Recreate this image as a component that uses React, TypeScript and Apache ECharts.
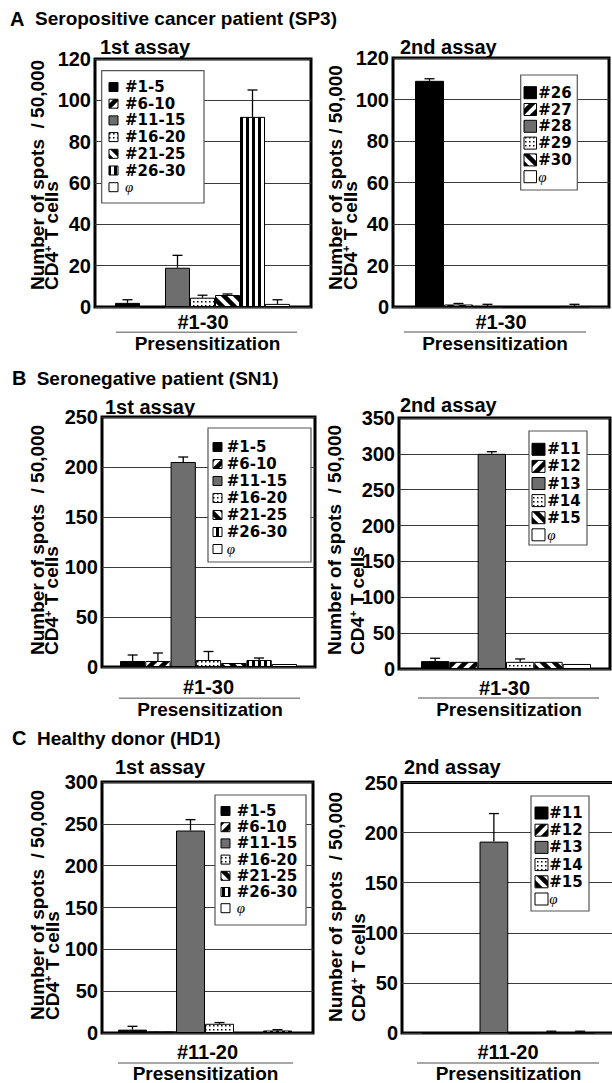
import React, { useEffect, useRef } from 'react';
import * as echarts from 'echarts';

const FONT = '"Liberation Sans", Arial, Helvetica, sans-serif';
const LEG_FONT = '"DejaVu Sans", "Liberation Sans", sans-serif';

// ---------- Panel A: Seropositive cancer patient (SP3) ----------
const a1Names = ['#1-5', '#6-10', '#11-15', '#16-20', '#21-25', '#26-30', 'φ'];
const a1Values = [2, 0, 19, 4.5, 5.8, 92, 1.5];
const a1Errors = [1.5, 0, 6, 1.2, 0.5, 13, 2];
const a1Max = 120;
const a1Step = 20;
const a1Cat = '#1-30';

const a2Names = ['#26', '#27', '#28', '#29', '#30', 'φ'];
const a2Values = [109, 1.2, 0.3, 0, 0, 0.3];
const a2Errors = [1, 0.5, 1, 0, 0, 1];
const a2Max = 120;
const a2Step = 20;
const a2Cat = '#1-30';

// ---------- Panel B: Seronegative patient (SN1) ----------
const b1Names = ['#1-5', '#6-10', '#11-15', '#16-20', '#21-25', '#26-30', 'φ'];
const b1Values = [6, 6, 205, 7, 4, 7, 3];
const b1Errors = [6, 8, 5, 8.5, 0, 2, 0];
const b1Max = 250;
const b1Step = 50;
const b1Cat = '#1-30';

const b2Names = ['#11', '#12', '#13', '#14', '#15', 'φ'];
const b2Values = [11, 10, 300, 10, 10, 7];
const b2Errors = [4, 0, 3, 4, 0, 0];
const b2Max = 350;
const b2Step = 50;
const b2Cat = '#1-30';

// ---------- Panel C: Healthy donor (HD1) ----------
const c1Names = ['#1-5', '#6-10', '#11-15', '#16-20', '#21-25', '#26-30', 'φ'];
const c1Values = [4, 2, 242, 11, 1, 3, null];
const c1Errors = [4, 0, 13, 1.5, 0, 1, 0];
const c1Max = 300;
const c1Step = 50;
const c1Cat = '#11-20';

const c2Names = ['#11', '#12', '#13', '#14', '#15', 'φ'];
const c2Values = [0, 0, 191, 0, 0.3, 0.3];
const c2Errors = [0, 0, 28, 0, 1.5, 1.5];
const c2Max = 250;
const c2Step = 50;
const c2Cat = '#11-20';

const sectionTitles = [
  { letter: 'A', text: 'Seropositive cancer patient (SP3)', y: 18.5, lx: 10, tx: 35 },
  { letter: 'B', text: 'Seronegative patient (SN1)', y: 378.3, lx: 12, tx: 36.7 },
  { letter: 'C', text: 'Healthy donor (HD1)', y: 738.3, lx: 12, tx: 37 },
];

const Y_TITLE_1 = 'Number of spots  / 50,000';
const Y_TITLE_1_SINGLE = 'Number of spots / 50,000';
const X_TITLE = 'Presensitization';

// layout (positions only)
const LAYOUT: any[] = [
  {
    names: a1Names, values: a1Values, errors: a1Errors, max: a1Max, step: a1Step, cat: a1Cat,
    frame: [95, 59, 311, 307], bars: [115, 290], catMargin: 5,
    legendBox: [101.7, 70.7, 204, 203], rowH: 16.7, firstRow: 87, icon: [9, 9], iconLeft: 109, textLeft: 125,
    yTitle: { x1: 37, x2: 51.5, y: 290, text: Y_TITLE_1 },
    assay: { text: '1st assay', x: 100, y: 46.7 }, underline: [116, 297, 332.3], pres: [207.5, 343.8],
  },
  {
    names: a2Names, values: a2Values, errors: a2Errors, max: a2Max, step: a2Step, cat: a2Cat,
    frame: [393, 58, 609, 307], bars: [415, 589], catMargin: 5,
    legendBox: [520.7, 75, 577.3, 190], rowH: 16.8, firstRow: 92.7, icon: [12.5, 12], iconLeft: 524, textLeft: 538.3,
    yTitle: { x1: 335, x2: 350, y: 290, text: Y_TITLE_1_SINGLE },
    assay: { text: '2nd assay', x: 400, y: 46.7 }, underline: [404, 586, 332], pres: [495, 343.8],
  },
  {
    names: b1Names, values: b1Values, errors: b1Errors, max: b1Max, step: b1Step, cat: b1Cat,
    frame: [102, 417, 315, 667], bars: [120, 297], catMargin: 9.5,
    legendBox: [208, 428, 311, 562], rowH: 17, firstRow: 447, icon: [9, 9], iconLeft: 213, textLeft: 226.7,
    yTitle: { x1: 37, x2: 51.5, y: 655, text: Y_TITLE_1 },
    assay: { text: '1st assay', x: 105, y: 406.7 }, underline: [119, 300, 698.3], pres: [210, 709.3],
  },
  {
    names: b2Names, values: b2Values, errors: b2Errors, max: b2Max, step: b2Step, cat: b2Cat,
    frame: [399, 418, 610, 669], bars: [421, 591], catMargin: 8.5,
    legendBox: [529, 431, 587, 545], rowH: 17.1, firstRow: 449.3, icon: [13, 12], iconLeft: 532, textLeft: 547.3,
    yTitle: { x1: 334.6, x2: 357, y: 655, text: Y_TITLE_1 },
    assay: { text: '2nd assay', x: 400, y: 405 }, underline: [418, 599, 698], pres: [509, 709.3],
  },
  {
    names: c1Names, values: c1Values, errors: c1Errors, max: c1Max, step: c1Step, cat: c1Cat,
    frame: [102, 782, 313, 1033], bars: [118, 321], catMargin: 8.5,
    legendBox: [215, 795, 306, 925], rowH: 16.2, firstRow: 811, icon: [9, 9], iconLeft: 221, textLeft: 236.7,
    yTitle: { x1: 37, x2: 52, y: 1020, text: Y_TITLE_1 },
    assay: { text: '1st assay', x: 115, y: 766.7 }, underline: [118, 293, 1063], pres: [205.5, 1073],
  },
  {
    names: c2Names, values: c2Values, errors: c2Errors, max: c2Max, step: c2Step, cat: c2Cat,
    frame: [402, 782.5, 614, 1033], bars: [422, 594.5], catMargin: 8.5,
    legendBox: [531, 796, 589, 911], rowH: 17.2, firstRow: 813, icon: [13, 12], iconLeft: 535, textLeft: 549.3,
    yTitle: { x1: 335, x2: 358, y: 1022, text: Y_TITLE_1 },
    assay: { text: '2nd assay', x: 404, y: 766.7 }, underline: [417, 599, 1063], pres: [508.5, 1073],
  },
];

function makePatterns() {
  const mk = (w: number, h: number, draw: (ctx: CanvasRenderingContext2D) => void) => {
    const c = document.createElement('canvas');
    c.width = w;
    c.height = h;
    const ctx = c.getContext('2d') as CanvasRenderingContext2D;
    ctx.fillStyle = '#fff';
    ctx.fillRect(0, 0, w, h);
    ctx.fillStyle = '#000';
    ctx.strokeStyle = '#000';
    draw(ctx);
    return { image: c.toDataURL(), repeat: 'repeat', imageWidth: w, imageHeight: h };
  };
  const diagUp = mk(12, 12, (ctx) => {
    ctx.lineWidth = 4.5;
    for (const o of [-12, 0, 12]) {
      ctx.beginPath();
      ctx.moveTo(o - 2, 14);
      ctx.lineTo(o + 14, -2);
      ctx.stroke();
    }
  });
  const diagDown = mk(12, 12, (ctx) => {
    ctx.lineWidth = 4.5;
    for (const o of [-12, 0, 12]) {
      ctx.beginPath();
      ctx.moveTo(o - 2, -2);
      ctx.lineTo(o + 14, 14);
      ctx.stroke();
    }
  });
  const vstripe = mk(6, 6, (ctx) => ctx.fillRect(0, 0, 3, 6));
  const dots = mk(4, 4, (ctx) => {
    ctx.fillRect(1, 1, 1.5, 1.5);
  });
  const seven = ['#000', diagUp, '#6e6e6e', dots, diagDown, vstripe, '#fff'];
  const six = ['#000', diagUp, '#6e6e6e', dots, diagDown, '#fff'];
  return { seven, six };
}

function buildOption() {
  const pats = makePatterns();
  const grid: any[] = [];
  const xAxis: any[] = [];
  const yAxis: any[] = [];
  const series: any[] = [];
  const graphic: any[] = [];
  const LEG_FS = 15;

  LAYOUT.forEach((p, pi) => {
    const [fx0, fy0, fx1, fy1] = p.frame;
    const n = p.names.length;
    const fillSet = n === 7 ? pats.seven : pats.six;
    const fIdx = pi * 2;
    const bIdx = pi * 2 + 1;

    grid.push({
      left: fx0, top: fy0, width: fx1 - fx0, height: fy1 - fy0,
      show: true, borderColor: '#000', borderWidth: 3, backgroundColor: 'transparent',
    });
    grid.push({
      left: p.bars[0], top: fy0, width: p.bars[1] - p.bars[0], height: fy1 - fy0,
      show: false,
    });

    xAxis.push({
      gridIndex: fIdx, type: 'category', data: [p.cat],
      axisLine: { show: false }, axisTick: { show: false },
      axisLabel: { interval: 0, margin: p.catMargin, color: '#000', fontSize: 20, fontWeight: 'bold', fontFamily: FONT },
      splitLine: { show: false },
    });
    xAxis.push({ gridIndex: bIdx, type: 'category', data: [p.cat], show: false, boundaryGap: true });

    yAxis.push({
      gridIndex: fIdx, type: 'value', min: 0, max: p.max, interval: p.step,
      axisLine: { show: false }, axisTick: { show: false },
      axisLabel: { margin: 4, color: '#000', fontSize: 20, fontWeight: 'bold', fontFamily: FONT },
      splitLine: { show: true, lineStyle: { color: '#3a3a3a', width: 1.2 } },
    });
    yAxis.push({ gridIndex: bIdx, type: 'value', min: 0, max: p.max, show: false, splitLine: { show: false } });

    p.names.forEach((name: string, i: number) => {
      series.push({
        type: 'bar', name, xAxisIndex: bIdx, yAxisIndex: bIdx,
        data: [p.values[i]],
        barGap: '0%', barCategoryGap: '0%',
        itemStyle: { color: fillSet[i], borderColor: '#000', borderWidth: 1 },
        silent: true, z: 2,
      });
    });

    const errData = p.values.map((v: any, i: number) => [0, i, v == null ? 0 : v, p.errors[i]]);
    series.push({
      type: 'custom', xAxisIndex: bIdx, yAxisIndex: bIdx, z: 5, silent: true,
      encode: { x: 0, y: 2 },
      data: errData,
      renderItem: (params: any, api: any) => {
        const idx = api.value(1);
        const v = api.value(2);
        const e = api.value(3);
        if (!e) return { type: 'group', children: [] };
        const band = api.size([1, 0])[0];
        const base = api.coord([0, v]);
        const top = api.coord([0, v + e]);
        const bw = band / n;
        const cx = base[0] - band / 2 + bw * (idx + 0.5);
        const st = { stroke: '#000', lineWidth: 1.3 };
        return {
          type: 'group',
          children: [
            { type: 'line', shape: { x1: cx, y1: base[1], x2: cx, y2: top[1] }, style: st },
            { type: 'line', shape: { x1: cx - 5, y1: top[1], x2: cx + 5, y2: top[1] }, style: st },
          ],
        };
      },
    });

    // legend (drawn as graphic elements)
    const [lx0, ly0, lx1, ly1] = p.legendBox;
    graphic.push({
      type: 'rect', z: 10,
      shape: { x: lx0, y: ly0, width: lx1 - lx0, height: ly1 - ly0 },
      style: { fill: '#fff', stroke: '#555', lineWidth: 1.2 },
    });
    p.names.forEach((name: string, i: number) => {
      const cy = p.firstRow + i * p.rowH;
      graphic.push({
        type: 'rect', z: 11,
        shape: { x: p.iconLeft, y: cy - p.icon[1] / 2, width: p.icon[0], height: p.icon[1] },
        style: { fill: fillSet[i], stroke: '#000', lineWidth: 1 },
      });
      const isPhi = name === 'φ';
      graphic.push({
        type: 'text', z: 11, x: p.textLeft, y: cy,
        style: {
          text: name, fill: '#000', align: 'left', verticalAlign: 'middle',
          fontSize: LEG_FS,
          fontWeight: isPhi ? 'normal' : 'bold',
          fontStyle: isPhi ? 'italic' : 'normal',
          fontFamily: isPhi ? '"Liberation Serif", serif' : LEG_FONT,
        },
      });
    });

    // y axis titles (two rotated lines)
    graphic.push({
      type: 'text', x: p.yTitle.x1, y: p.yTitle.y, rotation: Math.PI / 2,
      style: { text: p.yTitle.text, fontSize: 19, fontWeight: 'bold', fontFamily: FONT, fill: '#000', align: 'left', verticalAlign: 'middle' },
    });
    graphic.push({
      type: 'text', x: p.yTitle.x2, y: p.yTitle.y, rotation: Math.PI / 2,
      style: {
        text: '{a|CD4}{s|+}{a| T cells}', fill: '#000', align: 'left', verticalAlign: 'middle',
        fontSize: 19, fontWeight: 'bold', fontFamily: FONT,
        rich: {
          a: { fontSize: 19, fontWeight: 'bold', fontFamily: FONT, fill: '#000' },
          s: { fontSize: 11, fontWeight: 'bold', fontFamily: FONT, fill: '#000', verticalAlign: 'top' },
        },
      },
    });
    // assay title
    graphic.push({
      type: 'text', x: p.assay.x, y: p.assay.y,
      style: { text: p.assay.text, fontSize: 20, fontWeight: 'bold', fontFamily: FONT, fill: '#000', align: 'left', verticalAlign: 'middle' },
    });
    // underline + Presensitization
    graphic.push({
      type: 'line', shape: { x1: p.underline[0], y1: p.underline[2], x2: p.underline[1], y2: p.underline[2] },
      style: { stroke: '#8a8a8a', lineWidth: 1.5 },
    });
    graphic.push({
      type: 'text', x: p.pres[0], y: p.pres[1],
      style: { text: X_TITLE, fontSize: 19, fontWeight: 'bold', fontFamily: FONT, fill: '#000', align: 'center', verticalAlign: 'middle' },
    });
  });

  sectionTitles.forEach((s) => {
    graphic.push({
      type: 'text', x: s.lx, y: s.y,
      style: { text: s.letter, fontSize: 20, fontWeight: 'bold', fontFamily: FONT, fill: '#000', align: 'left', verticalAlign: 'middle' },
    });
    graphic.push({
      type: 'text', x: s.tx, y: s.y,
      style: { text: s.text, fontSize: 19, fontWeight: 'bold', fontFamily: FONT, fill: '#000', align: 'left', verticalAlign: 'middle' },
    });
  });

  return {
    animation: false,
    backgroundColor: '#fff',
    grid, xAxis, yAxis, series,
    graphic: { elements: graphic },
  };
}

export default function App() {
  const ref = useRef<HTMLDivElement>(null);
  useEffect(() => {
    if (!ref.current) return;
    const chart = echarts.init(ref.current, null, { renderer: 'svg' });
    chart.setOption(buildOption() as any);
    return () => chart.dispose();
  }, []);
  return (
    <div style={{ position: 'fixed', left: 0, top: 0, width: 612, height: 1083, overflow: 'hidden', background: '#fff' }}>
      <div ref={ref} style={{ width: 620, height: 1083 }} />
    </div>
  );
}
